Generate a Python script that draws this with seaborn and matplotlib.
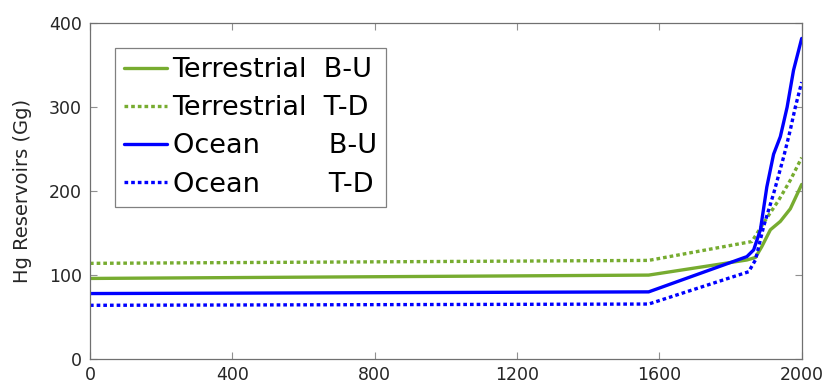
import matplotlib
matplotlib.use("Agg")
import matplotlib.pyplot as plt
import seaborn as sns
import pandas as pd

sns.set_theme(style="white")
plt.rcParams['font.family'] = ['DejaVu Sans']

# ---- data ----
terr_bu_years = [0, 1570, 1846, 1870, 1888, 1912, 1940, 1968, 2000]
terr_bu_vals = [96, 100, 118, 121, 134, 154, 164, 179, 208]

terr_td_years = [0, 1570, 1860, 1902, 1935, 1968, 2000]
terr_td_vals = [114, 117.5, 140, 168, 189, 213, 240]

ocean_bu_years = [0, 1570, 1846, 1865, 1884, 1902, 1921, 1940, 1959, 1977, 2000]
ocean_bu_vals = [78, 80, 122, 130, 154, 205, 244, 265, 300, 344, 382]

ocean_td_years = [0, 1570, 1851, 1870, 1893, 1921, 1950, 1968, 1982, 2000]
ocean_td_vals = [64, 65.5, 104, 118, 158, 197, 242, 273, 300, 330]

labels = ["Terrestrial  B-U", "Terrestrial  T-D", "Ocean        B-U", "Ocean        T-D"]
x_ticks = [0, 400, 800, 1200, 1600, 2000]
y_ticks = [0, 100, 200, 300, 400]

GREEN = "#77AC30"
BLUE = "#0000FF"

fig = plt.figure(figsize=(8.27, 3.89), dpi=100)
ax = fig.add_axes([0.1088, 0.0771, 0.9694 - 0.1088, 0.940 - 0.0771])

series = [
    (terr_bu_years, terr_bu_vals, GREEN, "-"),
    (terr_td_years, terr_td_vals, GREEN, (0, (1.1, 0.9))),
    (ocean_bu_years, ocean_bu_vals, BLUE, "-"),
    (ocean_td_years, ocean_td_vals, BLUE, (0, (1.1, 0.9))),
]
for (xs, ys, c, ls), lab in zip(series, labels):
    df = pd.DataFrame({"year": xs, "val": ys})
    sns.lineplot(data=df, x="year", y="val", ax=ax, color=c, linestyle=ls,
                 linewidth=2.4, label=lab, sort=True)

ax.set_xlim(0, 2000)
ax.set_ylim(0, 400)
ax.set_xticks(x_ticks)
ax.set_yticks(y_ticks)
ax.set_xlabel("")
ax.set_ylabel("Hg Reservoirs (Gg)", fontsize=14, color="#262626", labelpad=12)

for s in ax.spines.values():
    s.set_color("#707070")
    s.set_linewidth(0.9)
    s.set_visible(True)
ax.tick_params(axis="both", which="major", direction="in", length=5, width=0.8,
               color="#909090", labelsize=12.5, labelcolor="#262626",
               top=True, right=True, bottom=True, left=True)
ax.tick_params(axis="x", pad=5)
ax.tick_params(axis="y", pad=6)

leg = ax.legend(loc="upper left", bbox_to_anchor=(0.035, 0.926), borderaxespad=0,
                fontsize=19.5, frameon=True, fancybox=False, framealpha=1,
                edgecolor="#808080", handlelength=1.6, handletextpad=0.2,
                labelspacing=0.45, borderpad=0.33)
leg.get_frame().set_linewidth(0.9)
for t in leg.get_texts():
    t.set_color("black")

fig.savefig("out.png", dpi=100)
